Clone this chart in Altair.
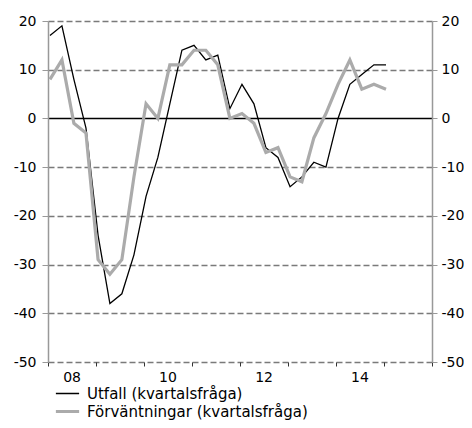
import altair as alt
import pandas as pd

# Quarterly observations, 2008Q1 .. 2015Q1
quarters = pd.period_range("2008Q1", "2015Q1", freq="Q")
utfall = [17, 19, 8, -2, -24, -38, -36, -28, -16, -8, 3, 14, 15, 12, 13, 2,
          7, 3, -6, -8, -14, -12, -9, -10, 0, 7, 9, 11, 11]
forvantningar = [8, 12, -1, -3, -29, -32, -29, -12, 3, 0, 11, 11, 14, 14, 11, 0,
                 1, -1, -7, -6, -12, -13, -4, 1, 7, 12, 6, 7, 6]
series_names = ["Utfall (kvartalsfråga)", "Förväntningar (kvartalsfråga)"]
y_ticks = [-50, -40, -30, -20, -10, 0, 10, 20]
year_labels = ["08", "10", "12", "14"]
label_years = [2008, 2010, 2012, 2014]
tick_years = list(range(2008, 2017))

dates = [q.start_time + pd.Timedelta(days=15) for q in quarters]
rows = []
for d, a, b in zip(dates, utfall, forvantningar):
    rows.append({"date": d, "serie": series_names[0], "value": a})
    rows.append({"date": d, "serie": series_names[1], "value": b})
df = pd.DataFrame(rows)

lab_df = pd.DataFrame({
    "date": [pd.Timestamp(f"{y}-07-02") for y in label_years],
    "label": year_labels,
})

FONT = "DejaVu Sans"
W, H = 384, 341

x_scale = alt.Scale(domain=[pd.Timestamp("2008-01-01").isoformat(),
                            pd.Timestamp("2016-01-01").isoformat()])
y_scale = alt.Scale(domain=[-50, 20], nice=False, zero=False)

x_axis = alt.Axis(
    values=[pd.Timestamp(f"{y}-01-01").isoformat() for y in tick_years],
    labels=False, domain=False, grid=False, ticks=True, tickSize=4,
    tickColor="#333333", title=None,
)

legend_kw = dict(title=None, orient="none", legendX=6, legendY=364,
                 symbolType="stroke", symbolSize=540, clipHeight=17,
                 labelFont=FONT, labelFontSize=15, labelColor="#000000",
                 labelOffset=6, rowPadding=1, labelLimit=0)

LABEL_EXPR = "'' + datum.value"

lines = alt.Chart(df).mark_line(strokeJoin="miter", clip=False).encode(
    x=alt.X("date:T", scale=x_scale, axis=x_axis),
    y=alt.Y("value:Q", scale=y_scale, axis=alt.Axis(
        values=y_ticks, orient="left", title=None, grid=True, labelExpr=LABEL_EXPR,
        gridColor=alt.condition("datum.value === 0", alt.value("#000000"), alt.value("#7a7a7a")),
        gridDash=alt.condition("datum.value === 0", alt.value([]), alt.value([6, 3])),
        gridWidth=alt.condition("datum.value === 0", alt.value(1.3), alt.value(1.5)),
        domainColor="#999999", tickColor="#999999", tickSize=6, labelPadding=6,
        labelFontSize=14, labelFont=FONT, labelColor="#000000", domainWidth=1.5,
    )),
    color=alt.Color("serie:N", sort=series_names,
                    scale=alt.Scale(domain=series_names, range=["#000000", "#ababab"]),
                    legend=alt.Legend(**legend_kw)),
    strokeWidth=alt.StrokeWidth("serie:N", sort=series_names,
                                scale=alt.Scale(domain=series_names, range=[1.3, 3.2]),
                                legend=alt.Legend(**legend_kw)),
    order=alt.Order("date:T"),
)

right_axis = alt.Chart(df).mark_point(opacity=0).encode(
    x=alt.X("date:T", scale=x_scale, axis=x_axis),
    y=alt.Y("value:Q", scale=y_scale, axis=alt.Axis(
        values=y_ticks, orient="right", title=None, grid=False, labelExpr=LABEL_EXPR,
        domainColor="#999999", tickColor="#999999", tickSize=5, labelPadding=4,
        labelFontSize=14, labelFont=FONT, labelColor="#000000", domainWidth=1.5,
    )),
)

labels = alt.Chart(lab_df).mark_text(font=FONT, fontSize=14, baseline="middle",
                                     align="center", color="#000000").encode(
    x=alt.X("date:T", scale=x_scale),
    y=alt.value(357),
    text="label:N",
)

chart = alt.layer(lines, right_axis, labels).resolve_axis(
    y="independent"
).properties(
    width=W, height=H,
    autosize=alt.AutoSizeParams(type="none"),
    padding={"left": 40, "top": 13, "right": 32, "bottom": 58},
).configure_view(stroke=None).configure_axis(labelFont=FONT)

chart.save("out.html", embed_options={"renderer": "svg", "actions": False})
